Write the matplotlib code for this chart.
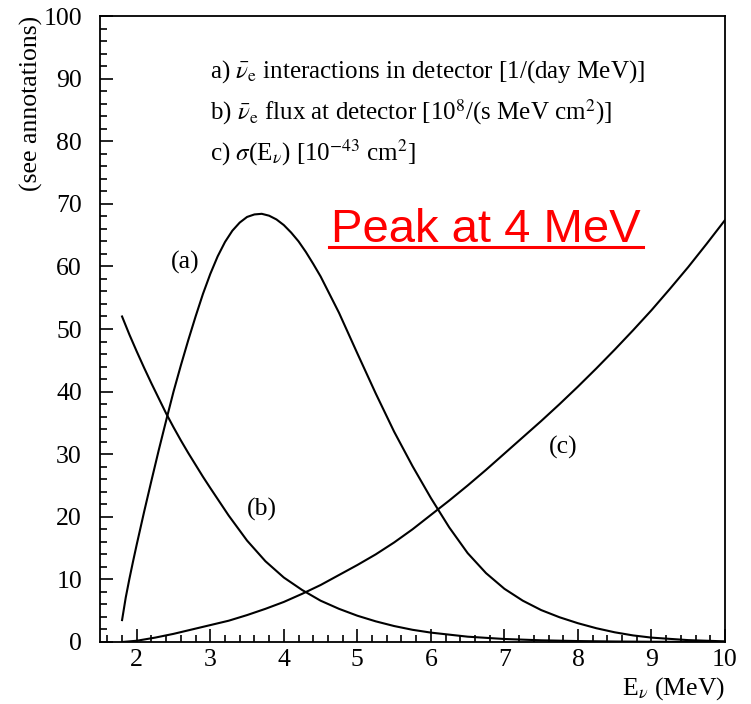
import matplotlib
matplotlib.use("Agg")
import matplotlib.pyplot as plt
from matplotlib.lines import Line2D
from matplotlib.ticker import MultipleLocator

plt.rcParams['font.family'] = ['Liberation Serif', 'DejaVu Serif']
plt.rcParams['mathtext.fontset'] = 'stix'

# (a) anti-neutrino interactions in detector [1/(day MeV)]
a_x = [1.8, 1.85, 1.9, 1.95, 2.0, 2.1, 2.2, 2.3, 2.4, 2.5, 2.6, 2.7, 2.8, 2.9,
       3.0, 3.1, 3.2, 3.3, 3.4, 3.5, 3.6, 3.7, 3.8, 3.9, 4.0, 4.1, 4.2, 4.3,
       4.4, 4.5, 4.75, 5.0, 5.25, 5.5, 5.75, 6.0, 6.25, 6.5, 6.75, 7.0, 7.25,
       7.5, 7.75, 8.0, 8.25, 8.5, 8.75, 9.0, 9.5, 10.0]
a_y = [3.5, 7.1, 10.1, 12.9, 15.6, 20.8, 25.8, 30.7, 35.4, 40.0, 44.2, 48.2,
       52.0, 55.6, 58.8, 61.6, 63.9, 65.7, 67.0, 67.9, 68.3, 68.4, 68.1, 67.5,
       66.6, 65.4, 64.0, 62.3, 60.4, 58.4, 52.6, 46.1, 39.7, 33.6, 28.1, 23.0,
       18.3, 14.2, 11.0, 8.5, 6.6, 5.1, 3.95, 3.0, 2.2, 1.55, 1.05, 0.7, 0.3, 0.1]

# (b) anti-neutrino flux at detector [1e8/(s MeV cm^2)]
b_x = [1.8, 1.9, 2.0, 2.1, 2.2, 2.3, 2.4, 2.5, 2.6, 2.7, 2.8, 2.9, 3.0, 3.25,
       3.5, 3.75, 4.0, 4.25, 4.5, 4.75, 5.0, 5.25, 5.5, 5.75, 6.0, 6.5, 7.0,
       7.5, 8.0, 8.5, 9.0, 10.0]
b_y = [52.0, 49.1, 46.4, 43.8, 41.3, 38.9, 36.5, 34.3, 32.2, 30.2, 28.3, 26.4,
       24.6, 20.2, 16.2, 12.9, 10.3, 8.3, 6.6, 5.3, 4.2, 3.3, 2.55, 1.95, 1.5,
       0.85, 0.48, 0.27, 0.15, 0.08, 0.04, 0.01]

# (c) cross section sigma(E_nu) [1e-43 cm^2]
c_x = [1.8, 2.0, 2.25, 2.5, 2.75, 3.0, 3.25, 3.5, 3.75, 4.0, 4.25, 4.5, 4.75,
       5.0, 5.25, 5.5, 5.75, 6.0, 6.25, 6.5, 6.75, 7.0, 7.25, 7.5, 7.75, 8.0,
       8.25, 8.5, 8.75, 9.0, 9.25, 9.5, 9.75, 10.0]
c_y = [0.0, 0.2, 0.7, 1.3, 2.0, 2.7, 3.4, 4.3, 5.3, 6.4, 7.7, 9.1, 10.7, 12.3,
       14.0, 15.9, 18.0, 20.3, 22.6, 25.0, 27.5, 30.1, 32.7, 35.3, 38.0, 40.8,
       43.7, 46.7, 49.8, 53.0, 56.4, 59.9, 63.6, 67.4]

notes = [r"a) $\bar{\nu}_\mathrm{e}$ interactions in detector [1/(day MeV)]",
         r"b) $\bar{\nu}_\mathrm{e}$ flux at detector [10$^8$/(s MeV cm$^2$)]",
         r"c) $\sigma$(E$_\nu$) [10$^{-43}$ cm$^2$]"]

fig = plt.figure(figsize=(7.51, 7.04), dpi=100)
ax = fig.add_axes([100 / 751, 1 - 642 / 704, 625 / 751, 626 / 704])

for xs, ys in [(a_x, a_y), (b_x, b_y), (c_x, c_y)]:
    ax.plot(xs, ys, color='black', lw=1.5)

ax.set_xlim(1.5, 10)
ax.set_ylim(0, 100)
ax.xaxis.set_major_locator(MultipleLocator(1))
ax.xaxis.set_minor_locator(MultipleLocator(0.2))
ax.yaxis.set_major_locator(MultipleLocator(10))
ax.yaxis.set_minor_locator(MultipleLocator(2))
ax.tick_params(which='both', direction='in', width=1.2, labelsize=18.5)
ax.tick_params(which='major', length=9.5)
ax.tick_params(which='minor', length=5)
ax.tick_params(axis='y', pad=13)
ax.tick_params(axis='x', pad=5)
for s in ax.spines.values():
    s.set_linewidth(1.3)

ax.text(-0.11, 1.0, "(see annotations)", transform=ax.transAxes,
        rotation=90, ha='center', va='top', fontsize=18.5)
ax.text(1.0, -0.075, r"E$_\nu$ (MeV)", transform=ax.transAxes,
        ha='right', va='center', fontsize=18.5)

for i, line in enumerate(notes):
    ax.text(3.0, 90.1 - 6.6 * i, line, fontsize=18, va='baseline')

# curve tags
ax.text(2.66, 60.7, "(a)", fontsize=18.5, ha='center', va='center')
ax.text(3.7, 21.1, "(b)", fontsize=18.5, ha='center', va='center')
ax.text(7.8, 31.0, "(c)", fontsize=18.5, ha='center', va='center')

ax.text(6.75, 63.9, "Peak at 4 MeV", color='red', fontsize=34,
        family='Liberation Sans', ha='center', va='baseline')
fig.add_artist(Line2D([329 / 751, 643 / 751], [1 - 247 / 704, 1 - 247 / 704],
                      color='red', lw=2.2))

fig.savefig("out.png", dpi=100)
